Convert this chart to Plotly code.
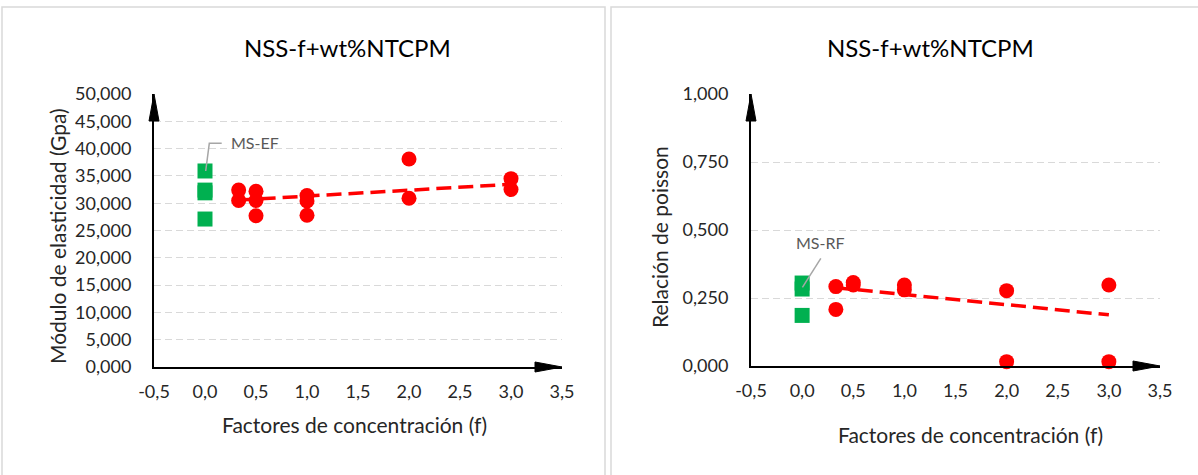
import plotly.graph_objects as go

# ---------------- data ----------------
# Left chart: Módulo de elasticidad (GPa)
ms_ef_x = [0, 0, 0, 0]
ms_ef_y = [35.9, 32.4, 31.9, 27.1]
nss_e_x = [0.33, 0.33, 0.5, 0.5, 0.5, 1.0, 1.0, 1.0, 2.0, 2.0, 3.0, 3.0]
nss_e_y = [32.4, 30.5, 32.2, 30.5, 27.7, 31.4, 30.4, 27.8, 38.1, 30.9, 34.5, 32.5]
trend_e_x = [0.33, 3.0]
trend_e_y = [30.58, 33.46]

# Right chart: Relación de poisson
ms_rf_x = [0, 0, 0]
ms_rf_y = [0.305, 0.283, 0.186]
nss_p_x = [0.33, 0.33, 0.5, 0.5, 1.0, 1.0, 2.0, 2.0, 3.0, 3.0]
nss_p_y = [0.292, 0.208, 0.307, 0.298, 0.298, 0.280, 0.277, 0.016, 0.298, 0.016]
trend_p_x = [0.33, 3.0]
trend_p_y = [0.288, 0.188]

# x tick labels (as printed in the chart)
x_tick_vals = [-0.5, 0.0, 0.5, 1.0, 1.5, 2.0, 2.5, 3.0, 3.5]
x_tick_text = ["-0,5", "0,0", "0,5", "1,0", "1,5", "2,0", "2,5", "3,0", "3,5"]

chart_title = "NSS-f+wt%NTCPM"
x_title = "Factores de concentración (f)"
y_title_left = "Módulo de elasticidad (Gpa)"
y_title_right = "Relación de poisson"
label_left = "MS-EF"
label_right = "MS-RF"

# ---------------- styling ----------------
W, H = 1198, 475
FONT = "Lato"
RED = "#FF0000"
GREEN = "#00B050"
GRID = "#D9D9D9"
TXT = "#262626"


def px(x):
    return x / W


def py(y):
    return 1 - y / H


XD1 = [px(154), px(562)]
YD1 = [py(367), py(94)]
XD2 = [px(751), px(1160)]
YD2 = [py(366), py(94)]

fig = go.Figure()

# left chart traces
fig.add_trace(go.Scatter(x=trend_e_x, y=trend_e_y, mode="lines",
                         line=dict(color=RED, width=3.5, dash="15px,7px"),
                         xaxis="x", yaxis="y", showlegend=False, hoverinfo="skip"))
fig.add_trace(go.Scatter(x=ms_ef_x, y=ms_ef_y, mode="markers",
                         marker=dict(symbol="square", size=15, color=GREEN),
                         xaxis="x", yaxis="y", showlegend=False, cliponaxis=False))
fig.add_trace(go.Scatter(x=nss_e_x, y=nss_e_y, mode="markers",
                         marker=dict(symbol="circle", size=15, color=RED),
                         xaxis="x", yaxis="y", showlegend=False, cliponaxis=False))

# right chart traces
fig.add_trace(go.Scatter(x=trend_p_x, y=trend_p_y, mode="lines",
                         line=dict(color=RED, width=3.5, dash="15px,7px"),
                         xaxis="x2", yaxis="y2", showlegend=False, hoverinfo="skip"))
fig.add_trace(go.Scatter(x=ms_rf_x, y=ms_rf_y, mode="markers",
                         marker=dict(symbol="square", size=15, color=GREEN),
                         xaxis="x2", yaxis="y2", showlegend=False, cliponaxis=False))
fig.add_trace(go.Scatter(x=nss_p_x, y=nss_p_y, mode="markers",
                         marker=dict(symbol="circle", size=15, color=RED),
                         xaxis="x2", yaxis="y2", showlegend=False, cliponaxis=False))

tickfont = dict(family=FONT, size=18, color=TXT)
xcommon = dict(range=[-0.5, 3.5], tickmode="array", tickvals=x_tick_vals,
               ticktext=x_tick_text,
               showgrid=False, zeroline=False, showline=True, linecolor="black",
               linewidth=2, ticks="", tickfont=tickfont, ticklabelstandoff=7,
               fixedrange=True, automargin=False)
ycommon = dict(showgrid=True, gridcolor=GRID, griddash="7px,4px", gridwidth=1,
               zeroline=False, showline=True, linecolor="black", linewidth=2,
               ticks="", tickfont=tickfont, tickformat=".3f", ticklabelstandoff=17,
               fixedrange=True, automargin=False)

fig.update_layout(
    width=W, height=H, autosize=False,
    margin=dict(l=0, r=0, t=0, b=0, pad=0, autoexpand=False),
    paper_bgcolor="white", plot_bgcolor="white",
    separators=",.",
    font=dict(family=FONT, color=TXT),
    xaxis=dict(domain=XD1, anchor="y", **xcommon),
    yaxis=dict(domain=YD1, anchor="x", range=[0, 50], dtick=5, **ycommon),
    xaxis2=dict(domain=XD2, anchor="y2", **xcommon),
    yaxis2=dict(domain=YD2, anchor="x2", range=[0, 1], dtick=0.25, **ycommon),
)

shapes = []
# chart area borders
shapes.append(dict(type="rect", xref="paper", yref="paper", x0=px(2), x1=px(605),
                   y0=-0.2, y1=py(7), line=dict(color=GRID, width=1.5), layer="below"))
shapes.append(dict(type="rect", xref="paper", yref="paper", x0=px(611), x1=1.2,
                   y0=-0.2, y1=py(7), line=dict(color=GRID, width=1.5), layer="below"))

# arrow heads at the ends of the axes (anchored to the axis domains)
for xd, yd in [(XD1, YD1), (XD2, YD2)]:
    shapes.append(dict(type="path", xref="paper", yref="paper", xsizemode="pixel",
                       ysizemode="pixel", xanchor=xd[1], yanchor=yd[0],
                       path="M 0,0 L -27,5 L -27,-5 Z",
                       fillcolor="black", line=dict(color="black", width=1)))
    shapes.append(dict(type="path", xref="paper", yref="paper", xsizemode="pixel",
                       ysizemode="pixel", xanchor=xd[0], yanchor=yd[1],
                       path="M 0,0 L -5,-27 L 5,-27 Z",
                       fillcolor="black", line=dict(color="black", width=1)))

# leader lines of data labels
shapes.append(dict(type="path", xref="x", yref="y", xsizemode="pixel", ysizemode="pixel",
                   xanchor=ms_ef_x[0], yanchor=ms_ef_y[0],
                   path="M 0.7,0 L 4.3,27.7 L 16.7,27.7",
                   line=dict(color="#A6A6A6", width=1.5)))
shapes.append(dict(type="path", xref="x2", yref="y2", xsizemode="pixel", ysizemode="pixel",
                   xanchor=ms_rf_x[0], yanchor=ms_rf_y[0],
                   path="M 0.3,-4.3 L 18.7,24.7",
                   line=dict(color="#A6A6A6", width=1.5)))
fig.update_layout(shapes=shapes)

ann = []
title_font = dict(family=FONT, size=24, color="black")
axis_font = dict(family=FONT, size=21, color=TXT)
ann.append(dict(text=chart_title, x=px(347.5), y=py(47), xref="paper", yref="paper",
                showarrow=False, font=title_font, xanchor="center", yanchor="middle"))
ann.append(dict(text=chart_title, x=px(930), y=py(47), xref="paper", yref="paper",
                showarrow=False, font=title_font, xanchor="center", yanchor="middle"))
ann.append(dict(text=x_title, x=px(354), y=py(424), xref="paper", yref="paper",
                showarrow=False, font=axis_font, xanchor="center", yanchor="middle"))
ann.append(dict(text=x_title, x=px(970), y=py(434), xref="paper", yref="paper",
                showarrow=False, font=axis_font, xanchor="center", yanchor="middle"))
ann.append(dict(text=y_title_left, x=px(57), y=py(236), xref="paper", yref="paper",
                showarrow=False, font=axis_font, textangle=-90,
                xanchor="center", yanchor="middle"))
ann.append(dict(text=y_title_right, x=px(660), y=py(237), xref="paper", yref="paper",
                showarrow=False, font=axis_font, textangle=-90,
                xanchor="center", yanchor="middle"))
ann.append(dict(text=label_left, x=ms_ef_x[0], y=ms_ef_y[0], xref="x", yref="y",
                showarrow=False, xanchor="left", yanchor="middle", xshift=24, yshift=28,
                font=dict(family=FONT, size=16, color="#595959")))
ann.append(dict(text=label_right, x=ms_rf_x[0], y=ms_rf_y[0], xref="x2", yref="y2",
                showarrow=False, xanchor="center", yanchor="middle", xshift=18, yshift=41,
                font=dict(family=FONT, size=16, color="#595959")))
fig.update_layout(annotations=ann)

fig.write_html(
    "out.html",
    config={"displayModeBar": False, "staticPlot": True},
    post_script="document.body.style.margin='0';document.body.style.overflow='hidden';",
)
